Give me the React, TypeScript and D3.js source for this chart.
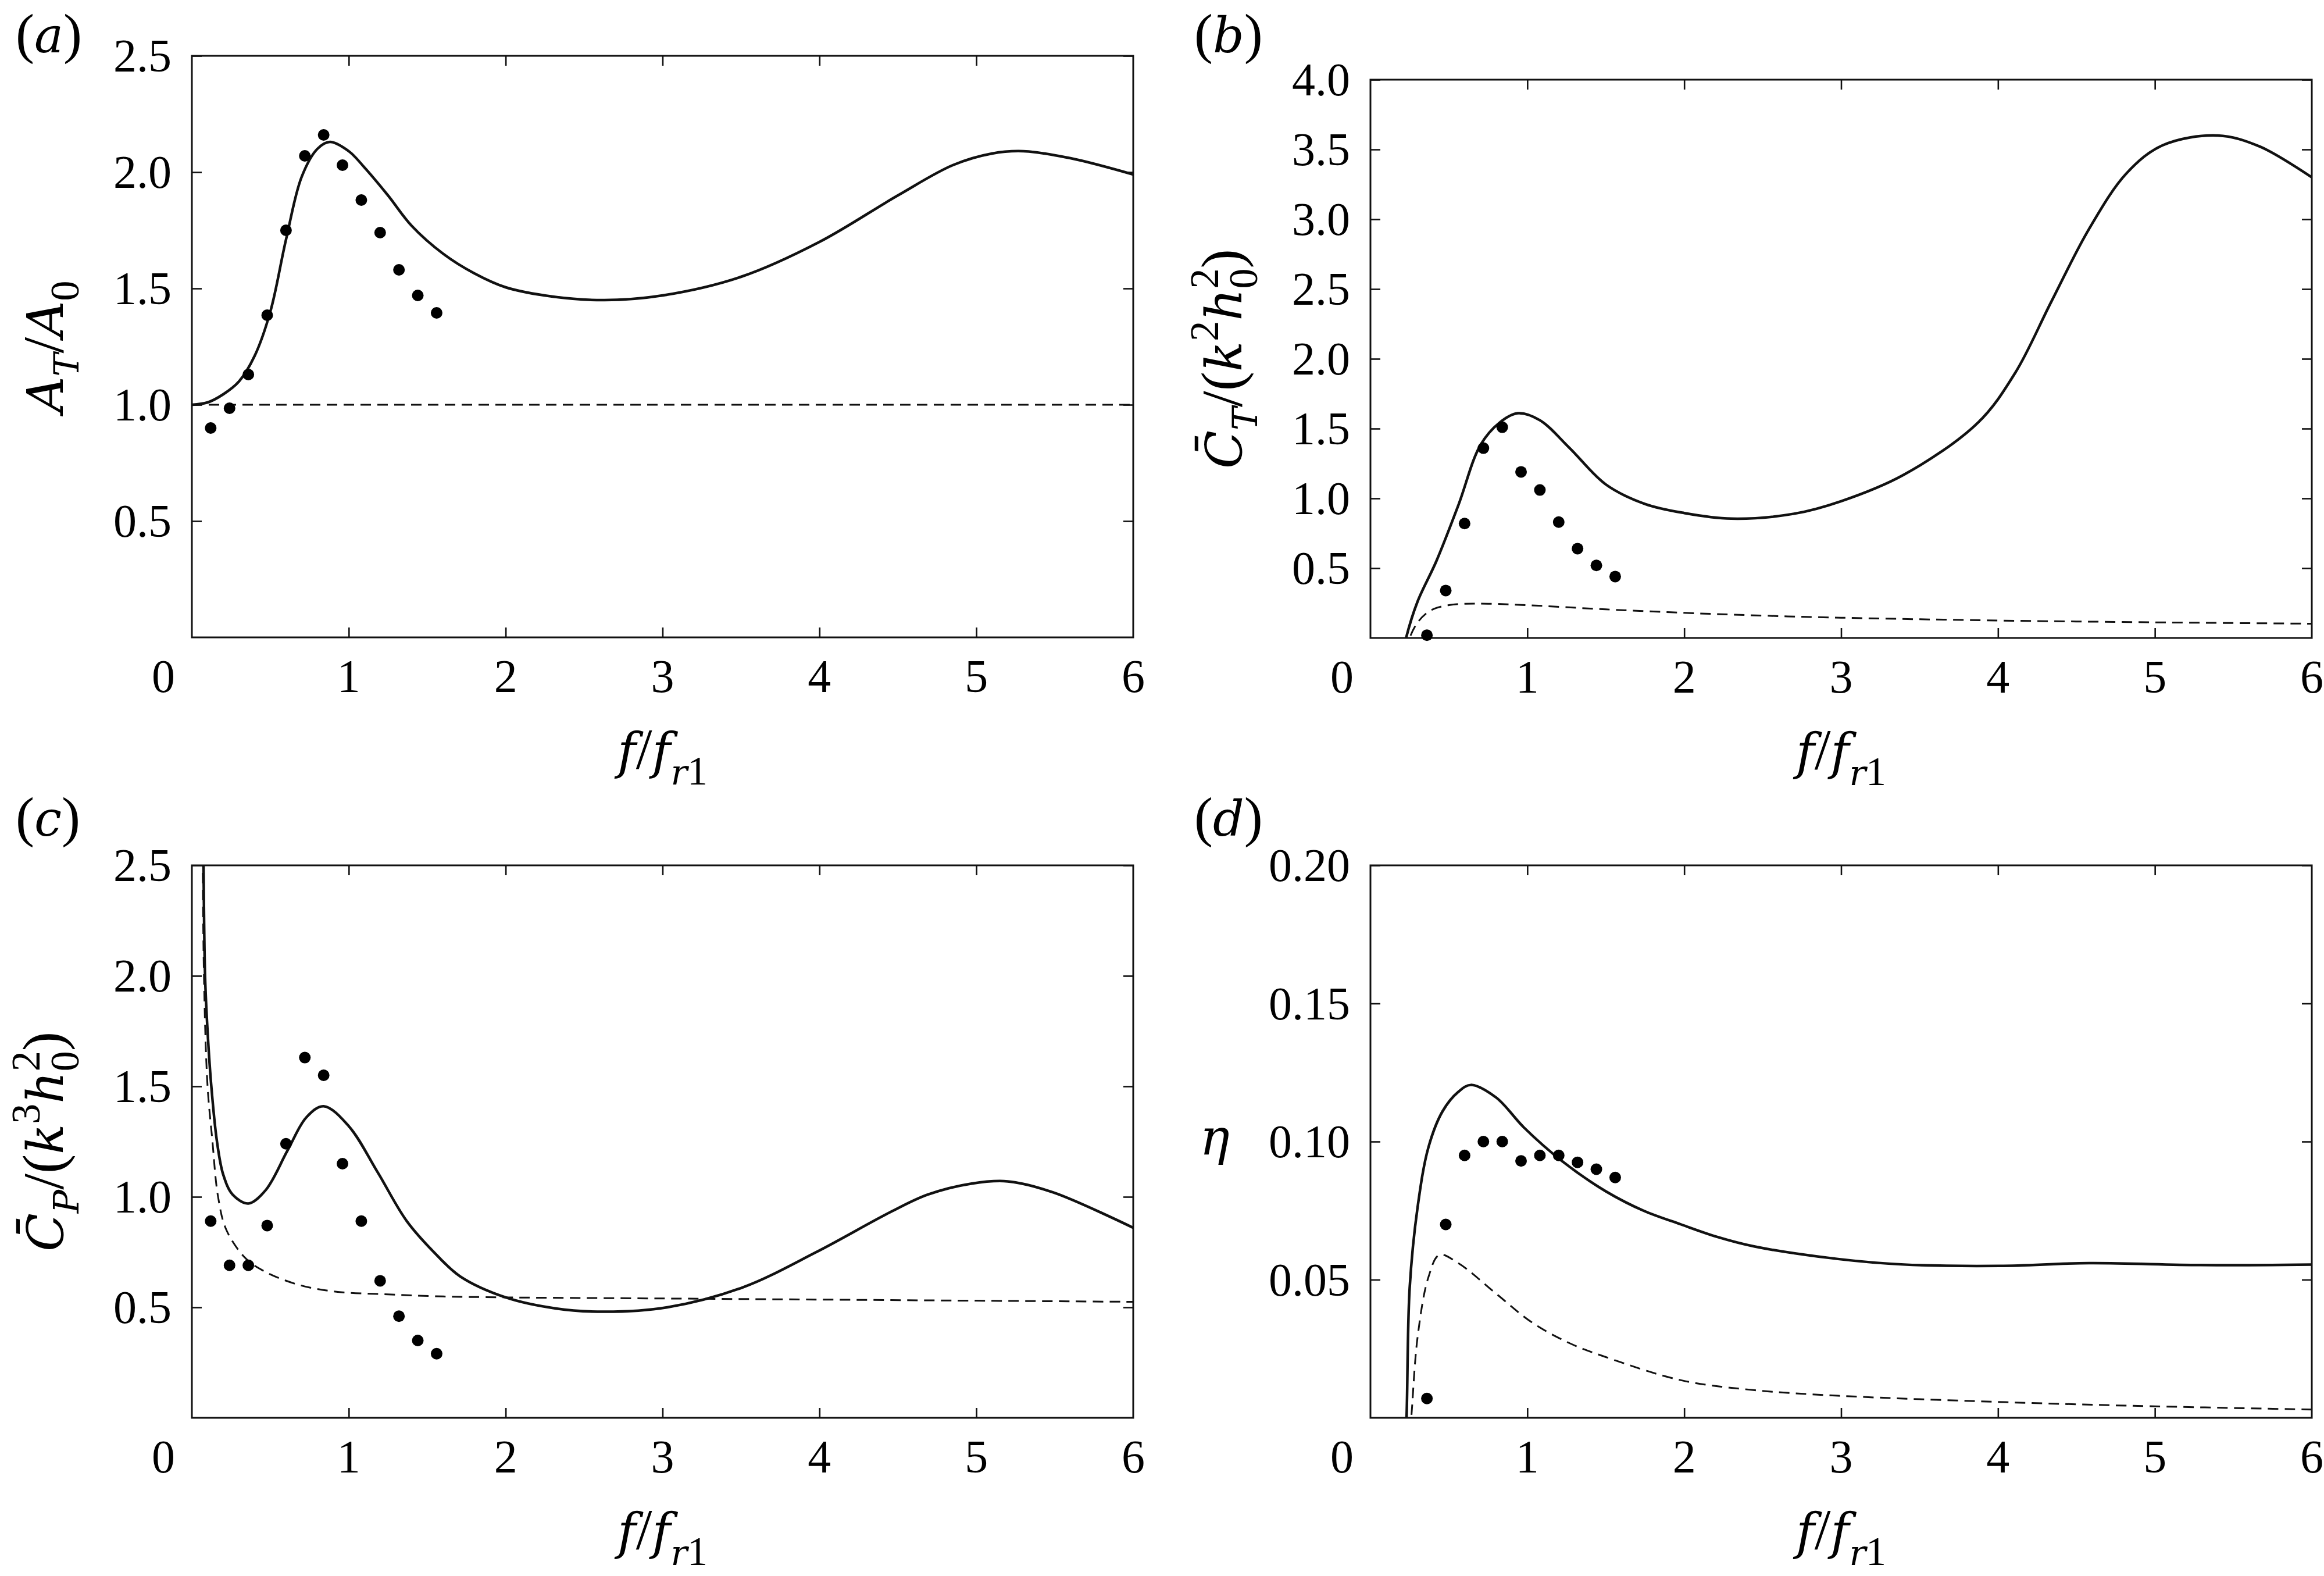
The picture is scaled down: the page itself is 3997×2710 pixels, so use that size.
import { useEffect, useRef } from "react";
import * as d3 from "d3";

type Pt = [number, number];

// shared x values of the experimental points
const fExpAC = [0.12, 0.24, 0.36, 0.48, 0.6, 0.72, 0.84, 0.96, 1.08, 1.2, 1.32, 1.44, 1.56];
const fExpBD = [0.36, 0.48, 0.6, 0.72, 0.84, 0.96, 1.08, 1.2, 1.32, 1.44, 1.56];
const xTicks = [1, 2, 3, 4, 5];
const xTickLabels = ["0", "1", "2", "3", "4", "5", "6"];

// (a) A_T / A_0
const ampSolid: Pt[] = [
  [0.0, 1.0], [0.1, 1.01], [0.2, 1.045], [0.3, 1.1], [0.4, 1.21], [0.5, 1.4],
  [0.6, 1.71], [0.7, 1.98], [0.8, 2.1], [0.88, 2.13], [1.0, 2.09], [1.1, 2.02],
  [1.25, 1.9], [1.4, 1.77], [1.6, 1.65], [1.8, 1.565], [2.0, 1.505], [2.3, 1.465],
  [2.63, 1.45], [3.0, 1.47], [3.5, 1.55], [4.0, 1.7], [4.5, 1.9], [4.85, 2.03],
  [5.1, 2.08], [5.3, 2.09], [5.6, 2.06], [6.0, 1.99],
];
const ampDashed: Pt[] = [[0, 1.0], [6, 1.0]];
const ampExp = [0.9, 0.985, 1.13, 1.385, 1.75, 2.07, 2.16, 2.03, 1.88, 1.74, 1.58, 1.47, 1.395];

// (b) thrust coefficient
const thrustSolid: Pt[] = [
  [0.2, -0.15], [0.227, 0.0], [0.3, 0.26], [0.42, 0.55], [0.56, 0.95], [0.7, 1.38],
  [0.82, 1.54], [0.94, 1.61], [1.08, 1.56], [1.27, 1.36], [1.5, 1.1], [1.75, 0.96],
  [2.0, 0.895], [2.3, 0.855], [2.7, 0.89], [3.0, 0.98], [3.4, 1.17], [3.87, 1.54],
  [4.11, 1.9], [4.34, 2.41], [4.58, 2.93], [4.82, 3.33], [5.05, 3.53], [5.4, 3.6],
  [5.67, 3.52], [6.0, 3.3],
];
const thrustDashed: Pt[] = [
  [0.23, -0.1], [0.25, 0.0], [0.3, 0.11], [0.36, 0.18], [0.42, 0.215], [0.5, 0.235],
  [0.6, 0.245], [0.75, 0.245], [1.0, 0.235], [1.5, 0.205], [2.0, 0.18], [2.5, 0.16],
  [3.0, 0.145], [4.0, 0.125], [5.0, 0.112], [6.0, 0.102],
];
const thrustExp = [0.02, 0.34, 0.82, 1.36, 1.51, 1.19, 1.06, 0.83, 0.64, 0.52, 0.44];

// (c) power coefficient
const powerSolid: Pt[] = [
  [0.065, 3.0], [0.074, 2.5], [0.084, 2.0], [0.1, 1.75], [0.124, 1.5], [0.16, 1.25],
  [0.2, 1.1], [0.26, 1.01], [0.36, 0.97], [0.47, 1.03], [0.61, 1.21], [0.73, 1.36],
  [0.84, 1.41], [1.0, 1.32], [1.185, 1.11], [1.37, 0.89], [1.556, 0.74], [1.71, 0.64],
  [2.0, 0.545], [2.32, 0.495], [2.63, 0.48], [3.03, 0.5], [3.51, 0.59], [3.98, 0.75],
  [4.45, 0.93], [4.69, 1.01], [4.97, 1.06], [5.2, 1.07], [5.49, 1.02], [6.0, 0.86],
];
const powerDashed: Pt[] = [
  [0.065, 3.0], [0.077, 2.0], [0.1, 1.5], [0.13, 1.26], [0.167, 1.0], [0.22, 0.85],
  [0.345, 0.72], [0.47, 0.66], [0.69, 0.6], [0.93, 0.57], [1.2, 0.56], [1.556, 0.55],
  [2.0, 0.545], [3.0, 0.54], [4.0, 0.535], [5.0, 0.53], [6.0, 0.525],
];
const powerExp = [0.89, 0.69, 0.69, 0.87, 1.24, 1.63, 1.55, 1.15, 0.89, 0.62, 0.46, 0.35, 0.29];

// (d) efficiency
const effSolid: Pt[] = [
  [0.22, -0.01], [0.23, 0.0], [0.25, 0.047], [0.3, 0.076], [0.37, 0.098], [0.46, 0.111],
  [0.56, 0.118], [0.64, 0.1205], [0.8, 0.116], [0.98, 0.105], [1.22, 0.093], [1.5, 0.082],
  [1.74, 0.075], [1.98, 0.07], [2.21, 0.0655], [2.45, 0.062], [2.98, 0.0575], [3.4, 0.0555],
  [4.01, 0.055], [4.58, 0.056], [5.29, 0.0553], [6.0, 0.0555],
];
const effDashed: Pt[] = [
  [0.25, -0.005], [0.26, 0.0], [0.3, 0.029], [0.37, 0.051], [0.44, 0.059], [0.56, 0.056],
  [0.8, 0.045], [1.03, 0.0345], [1.27, 0.027], [1.5, 0.022], [1.98, 0.0136], [2.45, 0.01],
  [2.98, 0.008], [3.87, 0.006], [4.82, 0.0044], [6.0, 0.003],
];
const effExp = [0.007, 0.07, 0.095, 0.1, 0.1, 0.093, 0.095, 0.095, 0.0925, 0.09, 0.087];

const ticksHalf = [0.5, 1.0, 1.5, 2.0, 2.5];
const ticksThrust = [0.5, 1.0, 1.5, 2.0, 2.5, 3.0, 3.5, 4.0];
const ticksEff = [0.05, 0.1, 0.15, 0.2];

// upright text in Liberation Serif, italic letters in DejaVu Serif Italic
// (Liberation Serif has no italic face installed here)
const ROMAN = "Liberation Serif";
const ITAL = "DejaVu Serif";
const TICK_FS = 80;
const LABEL_FS = 100;
const ITAL_FS = 86;
const SUB_FS = 70;
const SUB_IT_FS = 60;

const It = ({ children, size = ITAL_FS, dy, dx }: { children: React.ReactNode; size?: number; dy?: number; dx?: number }) => (
  <tspan fontFamily={ITAL} fontStyle="italic" fontSize={size} dy={dy} dx={dx}>
    {children}
  </tspan>
);
const Rm = ({ children, size = LABEL_FS, dy, dx }: { children: React.ReactNode; size?: number; dy?: number; dx?: number }) => (
  <tspan fontFamily={ROMAN} fontSize={size} dy={dy} dx={dx}>
    {children}
  </tspan>
);

interface PanelProps {
  id: string;
  left: number;
  top: number;
  width: number;
  height: number;
  yMax: number;
  yTicks: number[];
  yFmt: (v: number) => string;
  solid: Pt[];
  dashed: Pt[];
  expX: number[];
  expY: number[];
  tag: string;
  tagY: number;
  yLabel: React.ReactNode;
}

const Panel = (p: PanelProps) => {
  const ref = useRef<SVGGElement | null>(null);
  const x = d3.scaleLinear().domain([0, 6]).range([p.left, p.left + p.width]);
  const y = d3.scaleLinear().domain([0, p.yMax]).range([p.top + p.height, p.top]);

  useEffect(() => {
    if (!ref.current) return;
    const g = d3.select(ref.current);
    g.selectAll("*").remove();
    const bottom = p.top + p.height;
    const right = p.left + p.width;
    const tl = 17;

    g.append("clipPath")
      .attr("id", `clip-${p.id}`)
      .append("rect")
      .attr("x", p.left)
      .attr("y", p.top)
      .attr("width", p.width)
      .attr("height", p.height);

    // inside ticks on all four sides
    const tickStyle = (sel: d3.Selection<SVGGElement, unknown, null, undefined>) => {
      sel.select(".domain").remove();
      sel.selectAll(".tick line").attr("stroke", "#111").attr("stroke-width", 2.6);
      sel.selectAll(".tick text").remove();
    };
    g.append("g")
      .attr("transform", `translate(0,${bottom})`)
      .call(d3.axisBottom(x).tickValues(xTicks).tickSize(-tl))
      .call(tickStyle);
    g.append("g")
      .attr("transform", `translate(0,${p.top})`)
      .call(d3.axisTop(x).tickValues(xTicks).tickSize(-tl))
      .call(tickStyle);
    g.append("g")
      .attr("transform", `translate(${p.left},0)`)
      .call(d3.axisLeft(y).tickValues(p.yTicks).tickSize(-tl))
      .call(tickStyle);
    g.append("g")
      .attr("transform", `translate(${right},0)`)
      .call(d3.axisRight(y).tickValues(p.yTicks).tickSize(-tl))
      .call(tickStyle);

    g.append("rect")
      .attr("x", p.left)
      .attr("y", p.top)
      .attr("width", p.width)
      .attr("height", p.height)
      .attr("fill", "none")
      .attr("stroke", "#111")
      .attr("stroke-width", 3);

    const line = d3
      .line<Pt>()
      .x((d) => x(d[0]))
      .y((d) => y(d[1]))
      .curve(d3.curveCatmullRom.alpha(0.5));

    const plot = g.append("g").attr("clip-path", `url(#clip-${p.id})`);
    plot
      .append("path")
      .datum(p.dashed)
      .attr("fill", "none")
      .attr("stroke", "#111")
      .attr("stroke-width", 3)
      .attr("stroke-dasharray", "18 11")
      .attr("d", line);
    plot
      .append("path")
      .datum(p.solid)
      .attr("fill", "none")
      .attr("stroke", "#111")
      .attr("stroke-width", 4.5)
      .attr("stroke-linejoin", "round")
      .attr("d", line);

    g.selectAll("circle.exp")
      .data(p.expX)
      .enter()
      .append("circle")
      .attr("class", "exp")
      .attr("cx", (d) => x(d))
      .attr("cy", (_, i) => y(p.expY[i]))
      .attr("r", 10)
      .attr("fill", "#000");
  }, [p]);

  const bottom = p.top + p.height;
  return (
    <g fill="#000">
      <g ref={ref} />
      {p.yTicks.map((t) => (
        <text key={t} x={p.left - 35} y={y(t) + 27} fontFamily={ROMAN} fontSize={TICK_FS} textAnchor="end">
          {p.yFmt(t)}
        </text>
      ))}
      {xTickLabels.map((s, i) => (
        <text
          key={s}
          x={i === 0 ? p.left - 49 : x(i)}
          y={bottom + 94}
          fontFamily={ROMAN}
          fontSize={TICK_FS}
          textAnchor="middle"
        >
          {s}
        </text>
      ))}
      <text x={p.left + p.width / 2} y={bottom + 225} fontFamily={ROMAN} fontSize={LABEL_FS} textAnchor="middle">
        <It>f</It>
        <Rm>/</Rm>
        <It>f</It>
        <It size={SUB_IT_FS} dy={28}>r</It>
        <Rm size={SUB_FS}>1</Rm>
      </text>
      <text x={p.left - 303} y={p.tagY} fontFamily={ROMAN} fontSize={96}>
        <Rm size={96}>(</Rm>
        <It size={84}>{p.tag}</It>
        <Rm size={96}>)</Rm>
      </text>
      {p.yLabel}
    </g>
  );
};

const rotLabel = (left: number, top: number, height: number, children: React.ReactNode) => (
  <text
    transform={`translate(${left - 222},${top + height / 2}) rotate(-90)`}
    fontFamily={ROMAN}
    fontSize={LABEL_FS}
    textAnchor="middle"
  >
    {children}
  </text>
);

const coefLabel = (sub: string, pow: string) => (
  <>
    <It>{"C\u0304"}</It>
    <It size={SUB_IT_FS} dy={27}>{sub}</It>
    <Rm dy={-27}>/(</Rm>
    <It>k</It>
    <Rm size={SUB_FS} dy={-40}>{pow}</Rm>
    <It dy={40}>h</It>
    <Rm size={SUB_FS} dy={27}>0</Rm>
    <Rm size={SUB_FS} dx={-35} dy={-67}>2</Rm>
    <Rm dy={40}>)</Rm>
  </>
);

const L1 = 330;
const L2 = 2357;
const W = 1619;

const App = () => {
  const f1 = (v: number) => v.toFixed(1);
  const f2 = (v: number) => v.toFixed(2);
  return (
    <svg
      width={3997}
      height={2710}
      style={{ position: "absolute", left: 0, top: 0, background: "#fff" }}
    >
      <rect width={3997} height={2710} fill="#fff" />
      <Panel
        id="a"
        left={L1}
        top={96}
        width={W}
        height={1000}
        yMax={2.5}
        yTicks={ticksHalf}
        yFmt={f1}
        solid={ampSolid}
        dashed={ampDashed}
        expX={fExpAC}
        expY={ampExp}
        tag="a"
        tagY={90}
        yLabel={rotLabel(L1, 96, 1000, (
          <>
            <It>A</It>
            <It size={SUB_IT_FS} dy={27}>T</It>
            <Rm dy={-27}>/</Rm>
            <It>A</It>
            <Rm size={SUB_FS} dy={27}>0</Rm>
          </>
        ))}
      />
      <Panel
        id="b"
        left={L2}
        top={137}
        width={W}
        height={960}
        yMax={4.0}
        yTicks={ticksThrust}
        yFmt={f1}
        solid={thrustSolid}
        dashed={thrustDashed}
        expX={fExpBD}
        expY={thrustExp}
        tag="b"
        tagY={90}
        yLabel={rotLabel(L2, 137, 960, coefLabel("T", "2"))}
      />
      <Panel
        id="c"
        left={L1}
        top={1488}
        width={W}
        height={950}
        yMax={2.5}
        yTicks={ticksHalf}
        yFmt={f1}
        solid={powerSolid}
        dashed={powerDashed}
        expX={fExpAC}
        expY={powerExp}
        tag="c"
        tagY={1437}
        yLabel={rotLabel(L1, 1488, 950, coefLabel("P", "3"))}
      />
      <Panel
        id="d"
        left={L2}
        top={1488}
        width={W}
        height={950}
        yMax={0.2}
        yTicks={ticksEff}
        yFmt={f2}
        solid={effSolid}
        dashed={effDashed}
        expX={fExpBD}
        expY={effExp}
        tag="d"
        tagY={1437}
        yLabel={
          <text x={L2 - 268} y={1985} fontFamily={ITAL} fontSize={ITAL_FS} fontStyle="italic" textAnchor="middle">
            η
          </text>
        }
      />
    </svg>
  );
};

export default App;
